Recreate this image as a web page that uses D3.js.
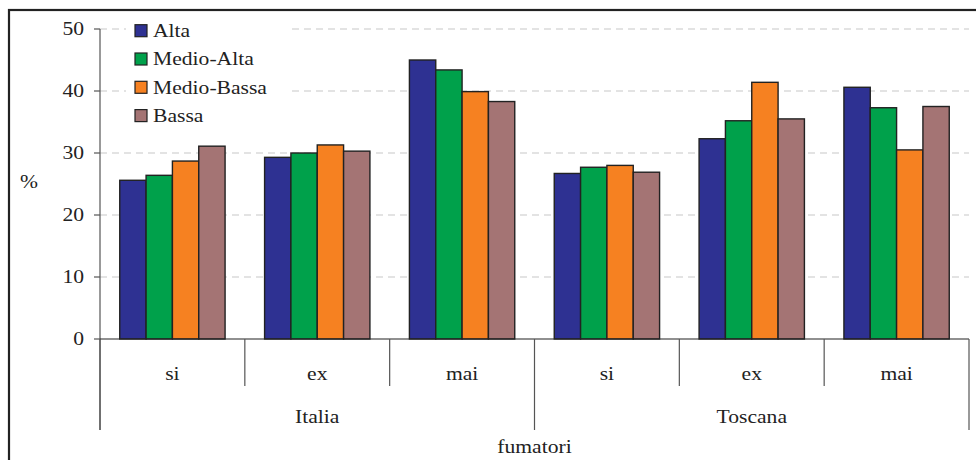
<!DOCTYPE html>
<html>
<head>
<meta charset="utf-8">
<script src="https://cdn.jsdelivr.net/npm/d3@7"></script>
<style>
  html, body { margin: 0; padding: 0; background: #fff; }
  svg { display: block; }
  text { font-family: "Liberation Serif", "Times New Roman", serif; fill: #222; }
</style>
</head>
<body>
<svg id="chart" width="976" height="460"></svg>
<script>
// Smoking status by education level, Italy vs Tuscany (%)
const categories = ["si", "ex", "mai", "si", "ex", "mai"];
const regions = ["Italia", "Toscana"];
const series = ["Alta", "Medio-Alta", "Medio-Bassa", "Bassa"];
const alta       = [25.6, 29.3, 45.0, 26.7, 32.3, 40.6];
const medioAlta  = [26.4, 30.0, 43.4, 27.7, 35.2, 37.3];
const medioBassa = [28.7, 31.3, 39.9, 28.0, 41.4, 30.5];
const bassa      = [31.1, 30.3, 38.3, 26.9, 35.5, 37.5];
const yTicks = [0, 10, 20, 30, 40, 50];
const yLabel = "%";
const xTitle = "fumatori";

const colors = ["#2e3192", "#00a14b", "#f68121", "#a47474"];
const values = [alta, medioAlta, medioBassa, bassa];

const svg = d3.select("#chart");
const TX = 1.2; // horizontal stretch of the serif lettering

function label(g, px, py, str, anchor, size) {
  return g.append("text")
    .attr("transform", `translate(${px},${py}) scale(${TX},1)`)
    .attr("text-anchor", anchor)
    .attr("dominant-baseline", "central")
    .style("font-size", size + "px")
    .text(str);
}

const plotLeft = 100, plotRight = 969, plotTop = 29, plotBottom = 339;

const x = d3.scaleBand().domain(d3.range(categories.length)).range([plotLeft, plotRight]).padding(0);
const xs = d3.scaleBand().domain(series).range([0, x.bandwidth()]).paddingInner(0).paddingOuter(0.75);
const y = d3.scaleLinear().domain([0, 50]).range([plotBottom, plotTop]);

// outer frame
svg.append("rect")
  .attr("x", 9).attr("y", 10).attr("width", 980).attr("height", 470)
  .attr("fill", "none").attr("stroke", "#222").attr("stroke-width", 2.2);

// dashed gridlines
svg.append("g").selectAll("line")
  .data(yTicks.filter(d => d > 0))
  .join("line")
  .attr("x1", plotLeft).attr("x2", plotRight)
  .attr("y1", d => y(d)).attr("y2", d => y(d))
  .attr("stroke", "#c8c8c8").attr("stroke-width", 1.2)
  .attr("stroke-dasharray", "7,5");

// bars
const bars = svg.append("g");
series.forEach((s, si) => {
  bars.selectAll(null)
    .data(values[si])
    .join("rect")
    .attr("x", (d, i) => x(i) + xs(s))
    .attr("y", d => y(d))
    .attr("width", xs.bandwidth())
    .attr("height", d => y(0) - y(d))
    .attr("fill", colors[si])
    .attr("stroke", "#222")
    .attr("stroke-width", 1.4);
});

// y axis
const ax = svg.append("g");
ax.append("line")
  .attr("x1", plotLeft).attr("x2", plotLeft).attr("y1", plotTop).attr("y2", 430)
  .attr("stroke", "#555").attr("stroke-width", 1.2);
ax.selectAll(".tick")
  .data(yTicks)
  .join("line")
  .attr("x1", plotLeft - 6).attr("x2", plotLeft)
  .attr("y1", d => y(d)).attr("y2", d => y(d))
  .attr("stroke", "#555").attr("stroke-width", 1.2);
yTicks.forEach(t => label(ax, 84, y(t), String(t), "end", 18));
label(ax, 29, 182, yLabel, "middle", 18);

// x axis with two-level category labels
const xa = svg.append("g");
xa.append("line")
  .attr("x1", plotLeft).attr("x2", plotRight).attr("y1", plotBottom).attr("y2", plotBottom)
  .attr("stroke", "#222").attr("stroke-width", 1.2);
const bounds = d3.range(categories.length + 1);
xa.selectAll(".sep")
  .data(bounds)
  .join("line")
  .attr("x1", i => i < categories.length ? x(i) : plotRight)
  .attr("x2", i => i < categories.length ? x(i) : plotRight)
  .attr("y1", plotBottom)
  .attr("y2", i => (i % 3 === 0) ? 430 : 386)
  .attr("stroke", "#555").attr("stroke-width", 1.2);
categories.forEach((c, i) => label(xa, x(i) + x.bandwidth() / 2, 374, c, "middle", 18));
regions.forEach((r, ri) => {
  const cx = x(ri * 3) + x.bandwidth() * 1.5;
  label(xa, cx, 417, r, "middle", 18);
});
label(xa, (plotLeft + plotRight) / 2, 447, xTitle, "middle", 18);

// legend
const lg = svg.append("g");
lg.append("rect")
  .attr("x", 126).attr("y", 15).attr("width", 164).attr("height", 116)
  .attr("fill", "#fff");
series.forEach((s, i) => {
  const cy = 30.7 + i * 28.3;
  lg.append("rect")
    .attr("x", 135).attr("y", cy - 6).attr("width", 12).attr("height", 12)
    .attr("fill", colors[i]).attr("stroke", "#222").attr("stroke-width", 1.2);
  label(lg, 153, cy, s, "start", 18);
});
</script>
</body>
</html>
